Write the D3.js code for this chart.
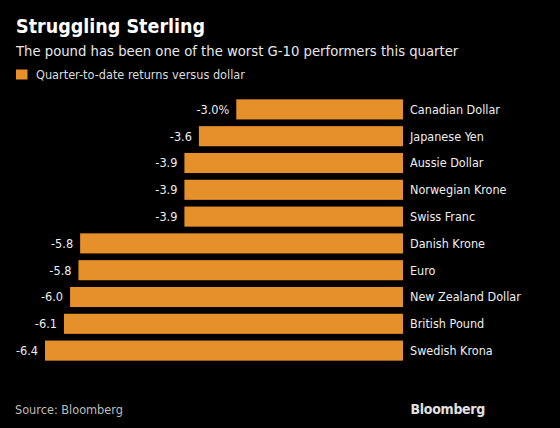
<!DOCTYPE html>
<html><head><meta charset="utf-8">
<script src="https://cdn.jsdelivr.net/npm/d3@7"></script>
<style>
html,body{margin:0;padding:0;background:#000;}
svg{display:block;}
text{font-family:"DejaVu Sans Condensed","DejaVu Sans",sans-serif;}
</style></head>
<body>
<script>
const categories = ["Canadian Dollar","Japanese Yen","Aussie Dollar","Norwegian Krone","Swiss Franc","Danish Krone","Euro","New Zealand Dollar","British Pound","Swedish Krona"];
const values = [-2.99,-3.66,-3.92,-3.92,-3.92,-5.79,-5.82,-5.97,-6.08,-6.42];
const labels = ["-3.0%","-3.6","-3.9","-3.9","-3.9","-5.8","-5.8","-6.0","-6.1","-6.4"];

const W=560,H=428;
const svg=d3.select("body").append("svg").attr("width",W).attr("height",H);
svg.append("rect").attr("width",W).attr("height",H).attr("fill","#000");

const x=d3.scaleLinear().domain([-6.42,0]).range([45,403]);
const y=d3.scaleBand().domain(categories).range([96,364]).paddingInner(0.25).paddingOuter(0.125);
const orange="#E6902B";

svg.append("text").attr("x",16).attr("y",33).attr("fill","#fff").attr("font-weight","bold").attr("font-size",19.5).text("Struggling Sterling");
svg.append("text").attr("x",16).attr("y",56).attr("fill","#e8e8e8").attr("font-size",14.7).text("The pound has been one of the worst G-10 performers this quarter");
svg.append("rect").attr("x",16).attr("y",69.5).attr("width",11.5).attr("height",10).attr("fill",orange);
svg.append("text").attr("x",36).attr("y",79).attr("fill","#dcdcdc").attr("font-size",12.6).text("Quarter-to-date returns versus dollar");

const g=svg.append("g");
g.selectAll("rect.bar").data(categories).join("rect").attr("class","bar")
 .attr("x",(d,i)=>x(values[i])).attr("y",d=>y(d))
 .attr("width",(d,i)=>x(0)-x(values[i])).attr("height",y.bandwidth()).attr("fill",orange);
g.selectAll("text.val").data(categories).join("text").attr("class","val")
 .attr("x",(d,i)=>x(values[i])-7).attr("y",d=>y(d)+y.bandwidth()/2).attr("dy","0.35em")
 .attr("text-anchor","end").attr("fill","#eee").attr("font-size",12.6).text((d,i)=>labels[i]);
g.selectAll("text.cat").data(categories).join("text").attr("class","cat")
 .attr("x",x(0)+7).attr("y",d=>y(d)+y.bandwidth()/2).attr("dy","0.35em")
 .attr("fill","#eee").attr("font-size",12.5).text(d=>d);

svg.append("text").attr("x",15).attr("y",414).attr("fill","#bdbdbd").attr("font-size",12.6).text("Source: Bloomberg");
svg.append("text").attr("x",485).attr("y",414).attr("text-anchor","end").attr("fill","#e0e0e0").attr("font-weight","bold").attr("font-size",14).attr("font-family","Liberation Sans, Arial, sans-serif").attr("letter-spacing","-0.3").text("Bloomberg");
</script>
</body></html>
